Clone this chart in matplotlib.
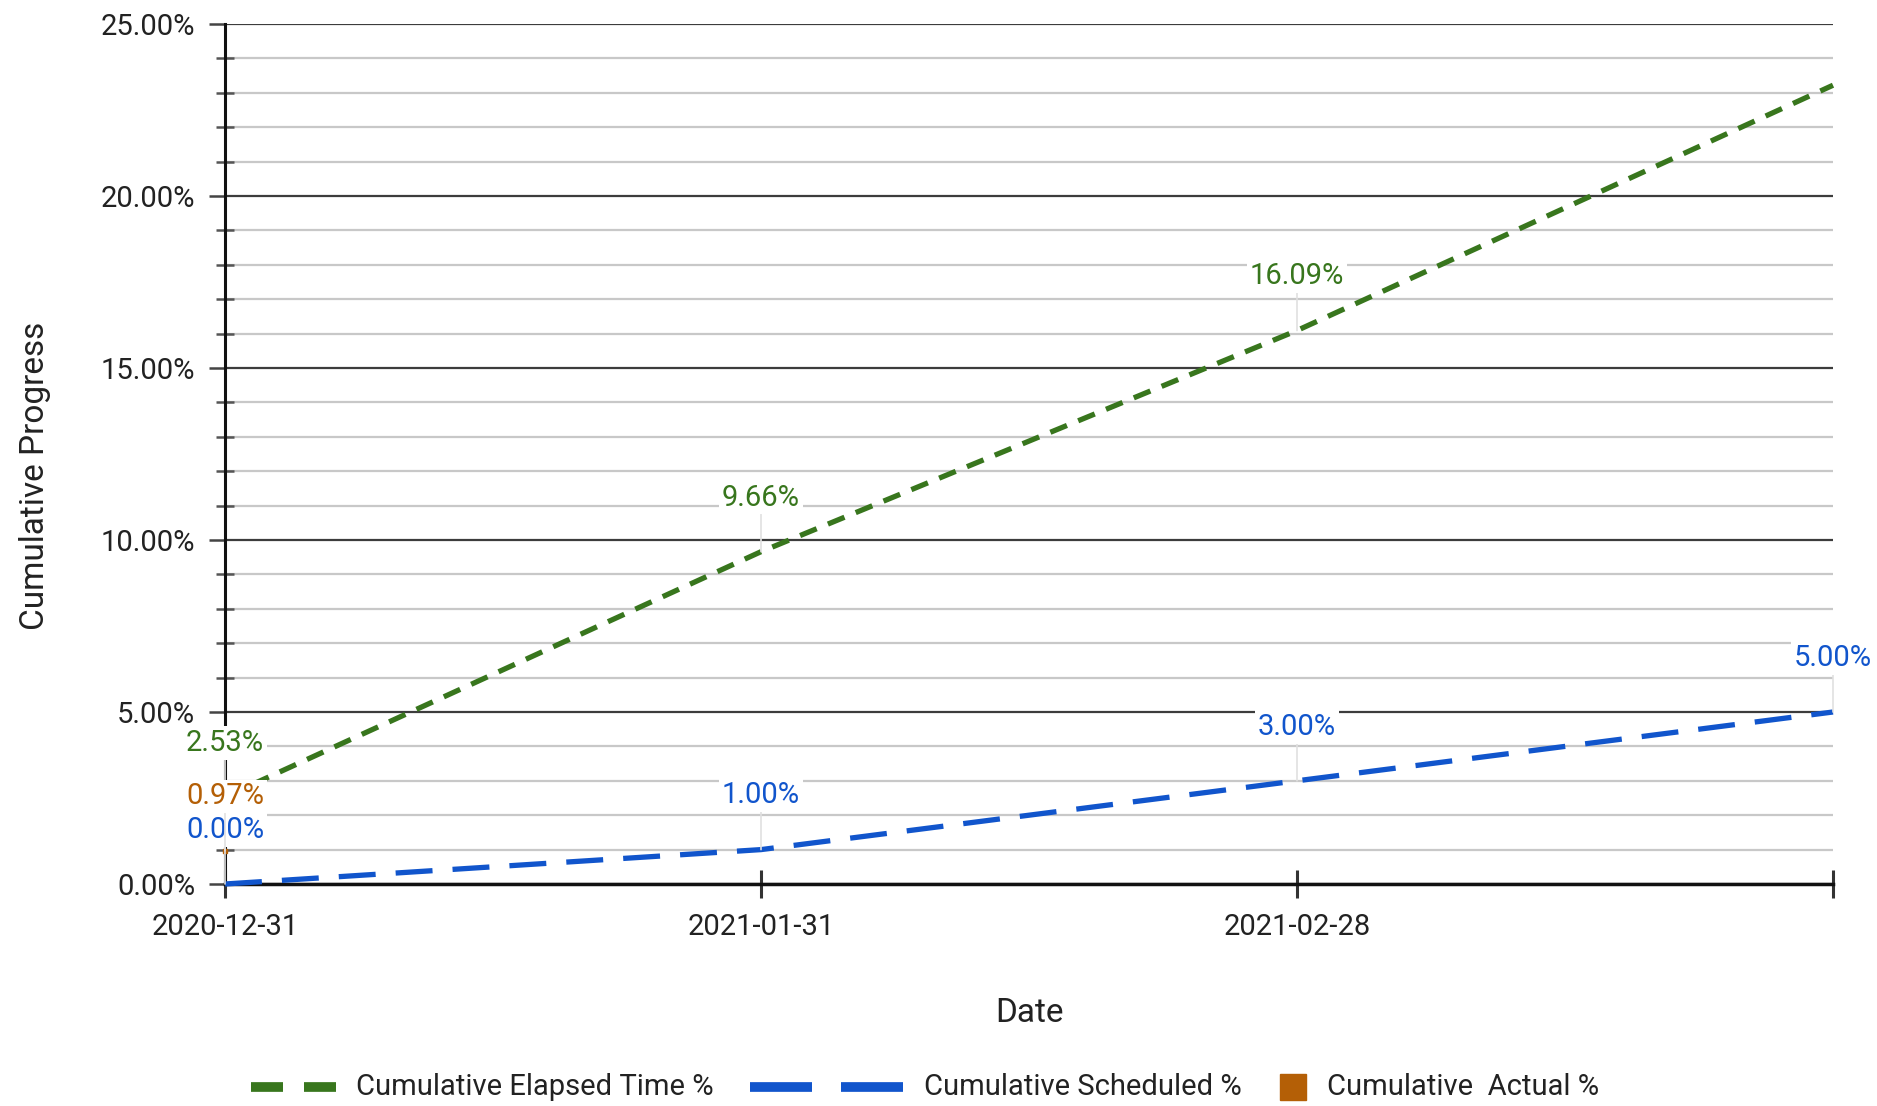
import matplotlib
matplotlib.use("Agg")
import matplotlib.pyplot as plt
from matplotlib.lines import Line2D
from matplotlib.patches import Rectangle
from matplotlib.ticker import MultipleLocator, FuncFormatter

plt.rcParams["font.family"] = ["Roboto", "DejaVu Sans"]

# data
dates = ["2020-12-31", "2021-01-31", "2021-02-28", "2021-03-31"]
tick_labels = ["2020-12-31", "2021-01-31", "2021-02-28", ""]
elapsed = [2.53, 9.66, 16.09, 23.22]
scheduled = [0.00, 1.00, 3.00, 5.00]
actual = [0.97]

elapsed_labels = ["2.53%", "9.66%", "16.09%", None]
scheduled_labels = ["0.00%", "1.00%", "3.00%", "5.00%"]
actual_labels = ["0.97%"]

series_names = ["Cumulative Elapsed Time %", "Cumulative Scheduled %", "Cumulative  Actual %"]

GREEN = "#38761d"
BLUE = "#1155cc"
ORANGE = "#b45f06"
TXT = "#222222"

W, H = 1877, 1106
fig = plt.figure(figsize=(W / 100, H / 100), dpi=100)
ax = fig.add_axes([225 / W, 1 - 884 / H, (1833 - 225) / W, (884 - 24) / H])

x = list(range(len(dates)))

ax.set_xlim(0, len(dates) - 1)
ax.set_ylim(0, 25)

# grid: dark major every 5%, light minor every 1%
ax.yaxis.set_major_locator(MultipleLocator(5))
ax.yaxis.set_minor_locator(MultipleLocator(1))
ax.grid(which="major", axis="y", color="#3c3c3c", lw=1.6, zorder=0)
ax.grid(which="minor", axis="y", color="#c8c8c8", lw=1.6, zorder=0)
ax.yaxis.set_major_formatter(FuncFormatter(lambda v, _: f"{v:.2f}%"))

for s in ["top", "right"]:
    ax.spines[s].set_visible(False)
ax.spines["left"].set_color("#111111")
ax.spines["left"].set_linewidth(2.2)
ax.spines["bottom"].set_color("#111111")
ax.spines["bottom"].set_linewidth(2.5)

ax.tick_params(axis="y", which="major", direction="out", length=11.5, width=1.8,
               color="#444444", labelsize=21, labelcolor=TXT, pad=10)
ax.tick_params(axis="y", which="minor", direction="inout", length=13, width=1.8,
               color="#555555")
ax.set_xticks(x)
ax.set_xticklabels(tick_labels)
ax.tick_params(axis="x", direction="inout", length=20, width=2.2, color="#333333",
               labelsize=21, labelcolor=TXT, pad=11)

ax.plot(x, elapsed, color=GREEN, lw=3.8, dashes=(3.4, 2.3), zorder=3, clip_on=False)
ax.plot(x, scheduled, color=BLUE, lw=3.8, dashes=(7, 3.8), zorder=3, clip_on=False)
ax.plot([0], actual, color=ORANGE, marker="s", ms=3.5, ls="none", zorder=4, clip_on=False)


def add_labels(xs, ys, labels, color):
    for xi, yi, lab in zip(xs, ys, labels):
        if lab is None:
            continue
        ax.annotate(lab, xy=(xi, yi), xytext=(0, 39), textcoords="offset points",
                    ha="center", va="center", fontsize=21, color=color, zorder=5,
                    bbox=dict(boxstyle="square,pad=0.1", fc="white", ec="none"),
                    arrowprops=dict(arrowstyle="-", color="#e0e0e0", lw=1.2,
                                    shrinkA=0, shrinkB=0))


add_labels(x, elapsed, elapsed_labels, GREEN)
add_labels(x, scheduled, scheduled_labels, BLUE)
add_labels([0], actual, actual_labels, ORANGE)

ax.set_xlabel("Date", fontsize=24, color=TXT)
ax.xaxis.set_label_coords(0.5, -0.131)
ax.set_ylabel("Cumulative Progress", fontsize=24, color=TXT)
ax.yaxis.set_label_coords(-0.108, 0.475)

# legend along the bottom, placed in figure pixels
ly = 1 - 1087 / H
for x0, x1 in [(251, 283), (304, 336)]:
    fig.add_artist(Line2D([x0 / W, x1 / W], [ly, ly], color=GREEN, lw=7,
                          solid_capstyle="butt", transform=fig.transFigure))
for x0, x1 in [(750, 812), (841, 903)]:
    fig.add_artist(Line2D([x0 / W, x1 / W], [ly, ly], color=BLUE, lw=7,
                          solid_capstyle="butt", transform=fig.transFigure))
fig.add_artist(Rectangle((1280 / W, ly - 13 / H), 26 / W, 26 / H, color=ORANGE,
                         transform=fig.transFigure))
for tx, name in zip([356, 924, 1327], series_names):
    fig.text(tx / W, ly, name, ha="left", va="center", fontsize=21, color=TXT)

fig.savefig("out.png", dpi=100, facecolor="white")
